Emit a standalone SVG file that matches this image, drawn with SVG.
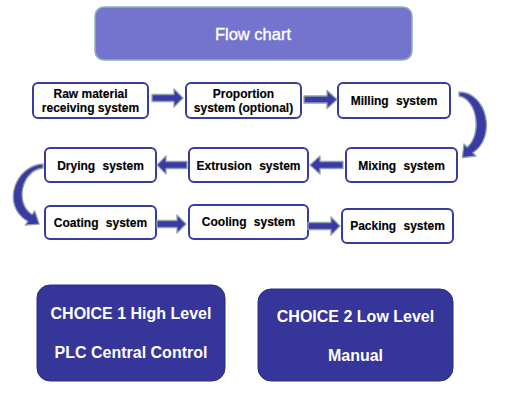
<svg xmlns="http://www.w3.org/2000/svg" width="519" height="409" viewBox="0 0 519 409">
<style>
.box{fill:#fff;stroke:#3b3b9e;stroke-width:2}
.t{font-family:"Liberation Sans",Arial,sans-serif;font-weight:bold;font-size:12px;fill:#000;text-anchor:middle;stroke:#000;stroke-width:0.15}
.arr{fill:#3a3aa6;stroke:#8ea3aa;stroke-width:1.3;stroke-linejoin:round}
.choice{fill:#35359a;stroke:#2c2c80;stroke-width:1}
.ct{font-family:"Liberation Sans",Arial,sans-serif;font-weight:bold;font-size:16px;fill:#fff;text-anchor:middle}
</style>
<rect width="519" height="409" fill="#fff"/>
<g id="title">
<rect x="95" y="7" width="317" height="53" rx="9" fill="#7474cf" stroke="#8fb3b3" stroke-width="1.5"/>
<text x="253" y="40" font-family="'Liberation Sans',Arial,sans-serif" font-size="16.5" fill="#fff" stroke="#fff" stroke-width="0.35" text-anchor="middle">Flow chart</text>
</g>
<g id="n-raw"><rect class="box" x="33" y="83" width="115" height="35" rx="5"/><text class="t" x="90.5" y="98">Raw material</text><text class="t" x="90.5" y="112">receiving system</text></g>
<g id="n-prop"><rect class="box" x="186" y="83" width="115" height="35" rx="5"/><text class="t" x="243.5" y="98">Proportion</text><text class="t" x="243.5" y="112">system (optional)</text></g>
<g id="n-mill"><rect class="box" x="338" y="83" width="112" height="35" rx="5"/><text class="t" x="394" y="105" word-spacing="4">Milling system</text></g>
<g id="n-mix"><rect class="box" x="346" y="148" width="111" height="34" rx="5"/><text class="t" x="401.5" y="170" word-spacing="4">Mixing system</text></g>
<g id="n-ext"><rect class="box" x="189" y="148" width="119" height="34" rx="5"/><text class="t" x="248.5" y="170" word-spacing="4">Extrusion system</text></g>
<g id="n-dry"><rect class="box" x="45" y="148" width="111" height="34" rx="5"/><text class="t" x="100.5" y="170" word-spacing="4">Drying system</text></g>
<g id="n-coat"><rect class="box" x="45" y="206" width="111" height="33" rx="5"/><text class="t" x="100.5" y="226.5" word-spacing="4">Coating system</text></g>
<g id="n-cool"><rect class="box" x="189" y="205" width="119" height="34" rx="5"/><text class="t" x="248.5" y="226" word-spacing="4">Cooling system</text></g>
<g id="n-pack"><rect class="box" x="342" y="209" width="111" height="34" rx="5"/><text class="t" x="397.5" y="230" word-spacing="4">Packing system</text></g>
<g id="connectors">
<path class="arr" d="M152 94.5 H174 V89 L183 98 L174 107 V101.5 H152 Z"/>
<path class="arr" d="M304 96 H327 V90.5 L337 99.5 L327 108.5 V103 H304 Z"/>
<path class="arr" d="M459 92 C487 92 497 137 472.8 152.8 L476 156 L462.3 157.7 L464 144 L467.2 147.2 C482 135 478 100 459 96 Z"/>
<path class="arr" d="M343 161.5 H320 V156 L310 165 L320 174 V168.5 H343 Z"/>
<path class="arr" d="M187 161.5 H166 V156 L157 165 L166 174 V168.5 H187 Z"/>
<path class="arr" d="M43 164 C16 165 0 205 27.8 221.4 L25.3 225.1 L39.2 224.1 L34.7 210.9 L32.2 214.6 C14 203 22 170 43 168 Z"/>
<path class="arr" d="M157 220.5 H177 V215 L186 224 L177 233 V227.5 H157 Z"/>
<path class="arr" d="M308 222.5 H331 V217 L340 226 L331 235 V229.5 H308 Z"/>
</g>
<g id="choice1"><rect class="choice" x="37" y="285" width="188" height="96" rx="13"/><text class="ct" x="131" y="319">CHOICE 1 High Level</text><text class="ct" x="131" y="358">PLC Central Control</text></g>
<g id="choice2"><rect class="choice" x="258" y="289" width="195" height="92" rx="13"/><text class="ct" x="355.5" y="322">CHOICE 2 Low Level</text><text class="ct" x="355.5" y="361">Manual</text></g>
</svg>
